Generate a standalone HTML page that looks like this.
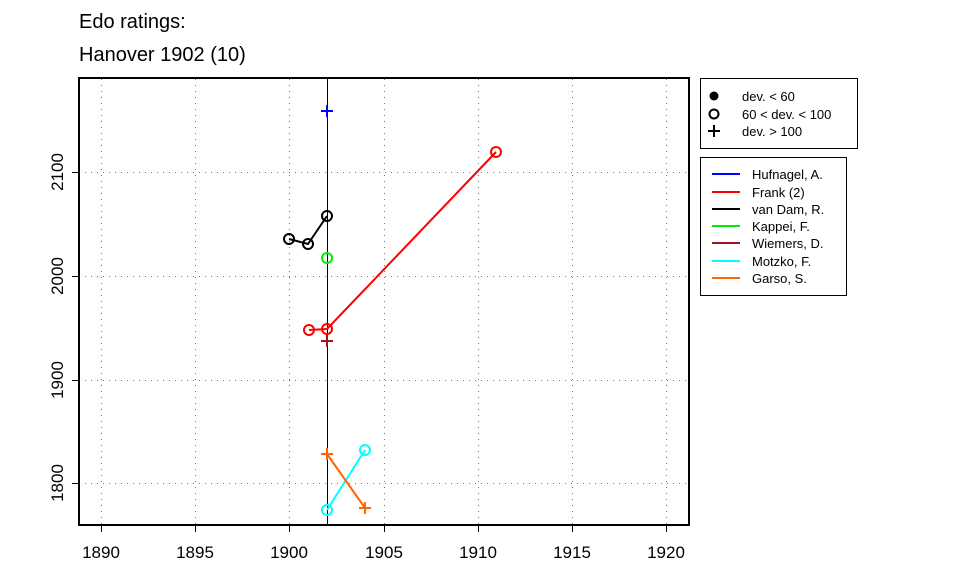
<!DOCTYPE html>
<html><head><meta charset="utf-8"><style>body{margin:0;background:#fff}svg{display:block;font-family:"Liberation Sans",Arial,sans-serif}</style></head><body>
<svg width="960" height="576" xmlns="http://www.w3.org/2000/svg">
<text x="79" y="28" font-size="20">Edo ratings:</text>
<text x="79" y="61" font-size="20">Hanover 1902 (10)</text>
<g stroke="#777" stroke-dasharray="1,5" stroke-width="1">
<line x1="101.5" y1="79" x2="101.5" y2="525"/><line x1="195.5" y1="79" x2="195.5" y2="525"/><line x1="289.5" y1="79" x2="289.5" y2="525"/><line x1="384.5" y1="79" x2="384.5" y2="525"/><line x1="478.5" y1="79" x2="478.5" y2="525"/><line x1="572.5" y1="79" x2="572.5" y2="525"/><line x1="666.5" y1="79" x2="666.5" y2="525"/>
<line x1="79" y1="172.5" x2="689" y2="172.5"/><line x1="79" y1="276.5" x2="689" y2="276.5"/><line x1="79" y1="380.5" x2="689" y2="380.5"/><line x1="79" y1="483.5" x2="689" y2="483.5"/>
</g>
<line x1="327.5" y1="78" x2="327.5" y2="525" stroke="#000" stroke-width="1"/>
<rect x="79" y="78" width="610" height="447" fill="none" stroke="#000" stroke-width="2"/>
<g stroke="#000" stroke-width="1">
<line x1="101.5" y1="525" x2="101.5" y2="532"/><line x1="195.5" y1="525" x2="195.5" y2="532"/><line x1="289.5" y1="525" x2="289.5" y2="532"/><line x1="384.5" y1="525" x2="384.5" y2="532"/><line x1="478.5" y1="525" x2="478.5" y2="532"/><line x1="572.5" y1="525" x2="572.5" y2="532"/><line x1="666.5" y1="525" x2="666.5" y2="532"/>
<line x1="72" y1="172.5" x2="79" y2="172.5"/><line x1="72" y1="276.5" x2="79" y2="276.5"/><line x1="72" y1="380.5" x2="79" y2="380.5"/><line x1="72" y1="483.5" x2="79" y2="483.5"/>
</g>
<g font-size="17" text-anchor="middle">
<text x="101" y="558">1890</text><text x="195" y="558">1895</text><text x="289" y="558">1900</text><text x="384" y="558">1905</text><text x="478" y="558">1910</text><text x="572" y="558">1915</text><text x="666" y="558">1920</text>
<text transform="translate(63,172) rotate(-90)">2100</text><text transform="translate(63,276) rotate(-90)">2000</text><text transform="translate(63,380) rotate(-90)">1900</text><text transform="translate(63,483) rotate(-90)">1800</text>
</g>
<g fill="none" stroke-width="2">
<path d="M321 111h12M327 105v12" stroke="#00f"/>
<polyline points="309,330 327,329 496,152" stroke="#f00"/>
<circle cx="309" cy="330" r="5" stroke="#f00"/><circle cx="327" cy="329" r="5" stroke="#f00"/><circle cx="496" cy="152" r="5" stroke="#f00"/>
<polyline points="289,239 308,244 327,216" stroke="#000"/>
<circle cx="289" cy="239" r="5" stroke="#000"/><circle cx="308" cy="244" r="5" stroke="#000"/><circle cx="327" cy="216" r="5" stroke="#000"/>
<circle cx="327" cy="258" r="5" stroke="#0e0"/>
<path d="M321 341h12M327 335v12" stroke="#a0141e"/>
<line x1="327" y1="510" x2="365" y2="450" stroke="#0ff"/>
<circle cx="327" cy="510" r="5" stroke="#0ff"/><circle cx="365" cy="450" r="5" stroke="#0ff"/>
<line x1="327" y1="454" x2="365" y2="508" stroke="#f60"/>
<path d="M321 454h12M327 448v12M359 508h12M365 502v12" stroke="#f60"/>
</g>
<rect x="700.5" y="78.5" width="157" height="70" fill="none" stroke="#000"/>
<circle cx="714" cy="96" r="4.5" fill="#000"/>
<circle cx="714" cy="114" r="4.5" fill="none" stroke="#000" stroke-width="2"/>
<path d="M708 131h12M714 125v12" stroke="#000" stroke-width="2"/>
<g font-size="13"><text x="742" y="101">dev. &lt; 60</text><text x="742" y="119">60 &lt; dev. &lt; 100</text><text x="742" y="136">dev. &gt; 100</text></g>
<rect x="700.5" y="157.5" width="146" height="138" fill="none" stroke="#000"/>
<g stroke-width="2">
<line x1="712" y1="174" x2="740" y2="174" stroke="#00f"/>
<line x1="712" y1="192" x2="740" y2="192" stroke="#f00"/>
<line x1="712" y1="209" x2="740" y2="209" stroke="#000"/>
<line x1="712" y1="226" x2="740" y2="226" stroke="#0e0"/>
<line x1="712" y1="243" x2="740" y2="243" stroke="#a0141e"/>
<line x1="712" y1="261" x2="740" y2="261" stroke="#0ff"/>
<line x1="712" y1="278" x2="740" y2="278" stroke="#f60"/>
</g>
<g font-size="13"><text x="752" y="179">Hufnagel, A.</text><text x="752" y="197">Frank (2)</text><text x="752" y="214">van Dam, R.</text><text x="752" y="231">Kappei, F.</text><text x="752" y="248">Wiemers, D.</text><text x="752" y="266">Motzko, F.</text><text x="752" y="283">Garso, S.</text></g>
</svg>
</body></html>
